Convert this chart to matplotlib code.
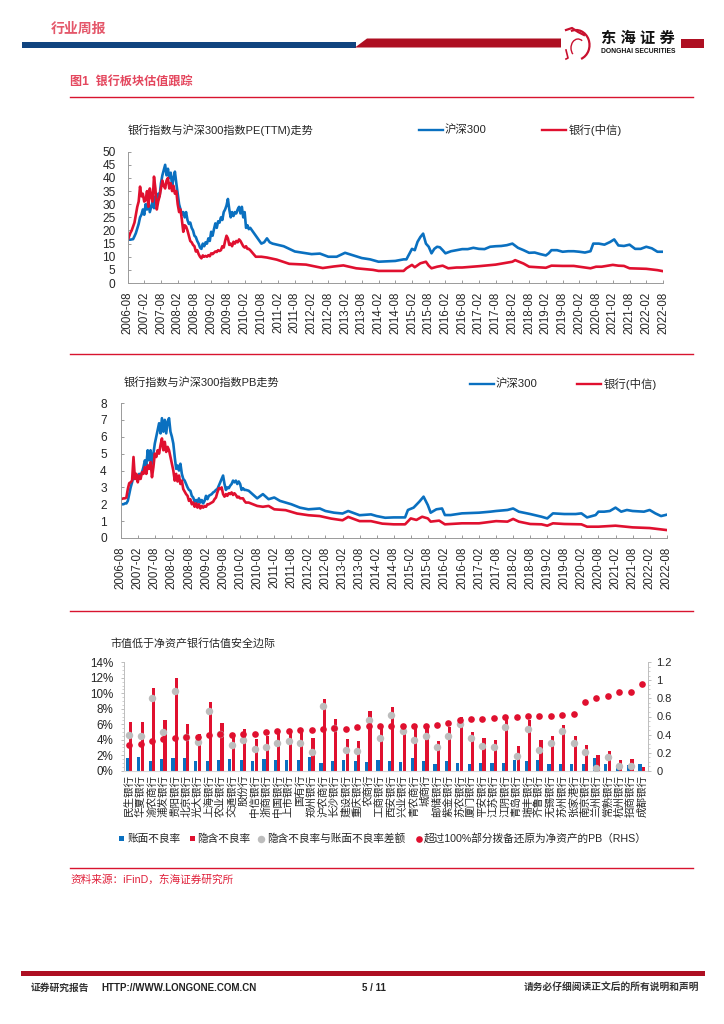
#!/usr/bin/env python3
"""
Bank sector valuation page: PE and PB against CSI 300, plus safety margin chart.
"""

import numpy as np
import matplotlib
matplotlib.use('Agg')
import matplotlib.pyplot as plt
from matplotlib.patches import Arc, Polygon, Rectangle

plt.rcParams['font.family'] = ['Liberation Sans', 'Noto Sans CJK SC', 'DejaVu Sans']
plt.rcParams['axes.unicode_minus'] = False

W, H = 724, 1024
BLUE = '#0A70C0'
RED = '#E0102F'
DARK_RED = '#AE0F22'
GREY = '#BDBDBD'
AXIS = '#9A9A9A'
TEXT = '#262626'

# half-yearly tick labels, month offsets from 2006-08
tick_labels = []
for year in range(2006, 2023):
    if year > 2006:
        tick_labels.append(f'{year}-02')
    tick_labels.append(f'{year}-08')
tick_months = list(range(0, 193, 6))

# first 44 months are read every half month, the rest at the offsets listed
pe_hs300_early = [16.4, 16.5, 16.5, 16.6, 16.7, 17.8, 19, 20.8, 22.5,
                  25, 26, 28, 26, 30, 28, 31, 27, 29,
                  31, 28.5, 33, 31, 34, 33, 38, 41, 43,
                  45, 41, 43.5, 40, 42, 37, 40, 42.4, 38,
                  34, 30, 28, 26, 27, 25, 27, 24, 22.5,
                  23, 21, 20, 18, 17.5, 16, 15, 13.5, 13,
                  15, 14, 15.5, 15, 17, 16, 19.5, 18, 20.5,
                  22.7, 21, 23.5, 23, 25, 24, 27, 28, 29.5,
                  32, 28, 25, 27, 25.5, 27, 26.5, 28, 29,
                  26.5, 29, 25, 27, 21, 22, 20.5, 21]
pe_hs300_late_m = [46, 48, 49, 50, 51, 52, 54, 56, 58, 60, 63, 66, 69, 72, 75, 78, 81, 84, 87, 90, 96, 99, 100, 102, 103,
                   104, 105, 106, 107, 108, 109, 110, 111, 112, 113, 114, 115, 116, 118, 120, 122, 124, 126, 128, 130,
                   132, 134, 136, 138, 140, 142, 144, 146, 148, 150, 151, 152, 154, 156, 158, 160, 162, 164, 166, 167,
                   169, 171, 173, 174.5, 176, 178, 180, 182, 184, 186, 188, 190, 192]
pe_hs300_late = [18, 15, 15.5, 17, 15.5, 15, 14.5, 14, 13, 12, 11.5, 11, 11.2, 10, 10, 11.5, 10.5, 9.5, 9, 8.1, 8.4, 9, 9, 13,
                 12.5, 15.7, 17.5, 18.8, 15, 13.8, 11.3, 13, 13.8, 13.6, 12.5, 11.3, 11.7, 12.1, 12.5, 12.9, 12.9, 13.4,
                 13, 12.9, 13.8, 14, 14.1, 14.4, 15, 13.4, 12.5, 11.5, 11.6, 11, 10.5, 11.3, 12.5, 12.5, 11.9, 12.1,
                 12.1, 11.9, 11.6, 12.1, 15, 15, 14.6, 15.6, 16.6, 14.3, 14.1, 14.6, 13, 13, 13.8, 13.2, 11.9, 11.9]

pe_bank_early = [16, 17.5, 19, 20, 21.5, 23, 26, 29, 31,
                 36.7, 33, 34, 31, 31.6, 35, 29, 36, 33,
                 31, 40.5, 36, 28, 31, 33, 36, 39, 37,
                 36, 39, 40, 36, 38, 35, 37, 34, 35,
                 30, 27, 28, 24, 19.5, 22, 21.5, 20, 18,
                 16, 15.5, 14.5, 14, 12, 12.5, 11, 10, 9.4,
                 10.5, 10, 10.3, 10, 10.6, 10.2, 11.3, 11, 11.5,
                 12, 11.8, 12.5, 12.2, 12.5, 14, 13.5, 16, 18,
                 17, 14.5, 15, 14, 15.7, 15, 16, 15.5, 16.6,
                 16, 15, 14, 13.5, 14, 13, 13, 12.5]
pe_bank_late_m = [46, 48, 50, 53.5, 58, 64, 70, 74, 77.4, 82, 88, 90, 96, 99, 100, 102, 103, 105, 107, 108, 109, 111, 113,
                  115, 118, 120, 126, 132, 138, 139, 142, 144, 150, 152, 156, 160, 162, 166, 168, 170, 174, 176, 178,
                  180, 186, 190, 192]
pe_bank_late = [10, 10, 9.7, 8.9, 7.3, 7, 5.7, 6.3, 6.7, 5.6, 5, 4.6, 4.6, 4.6, 5.6, 6.9, 6, 7.5, 8.1, 6.6, 5.6, 6.2, 6.6,
                5.6, 5.9, 5.9, 6.4, 7, 8.1, 8.7, 7.4, 6.2, 5.8, 6.6, 6.5, 6.5, 6.2, 5.6, 6.2, 6.2, 6.9, 6.6, 6.5,
                5.6, 5.4, 4.9, 4.5]

pb_hs300_early = [2, 2, 2, 2.05, 2.05, 2.2, 2.6, 3, 3.3,
                  3.7, 3.5, 3.7, 3.6, 3.8, 3.7, 3.9, 4.2, 4.6,
                  4.3, 5.2, 4.6, 5.2, 4.4, 5, 5.6, 6, 6.4,
                  6.8, 6.2, 7.1, 6.3, 7, 6.2, 6.9, 7.1, 6.3,
                  6, 5.6, 4.8, 4.1, 4.3, 4.0, 4.4, 3.8, 3.5,
                  3.4, 3.2, 3, 2.85, 2.8, 2.5, 2.4, 2.15, 2.25,
                  2.1, 2.35, 2.1, 2.25, 2.05, 2.2, 2.5, 2.3, 2.5,
                  2.55, 2.6, 2.7, 2.75, 2.85, 2.9, 3.1, 3.3, 3.5,
                  3.7, 3.2, 2.85, 3, 2.95, 3.1, 3.2, 3.4, 3.3,
                  3.4, 3.2, 3.35, 3.2, 2.85, 2.95, 2.85, 2.85]
pb_hs300_late_m = [45, 48, 50, 52, 54, 56, 60, 63, 66, 70, 72, 75, 78, 80, 84, 88, 90, 93, 96, 100, 101, 103, 105, 106.5,
                   108, 109, 111, 113, 114, 116, 120, 126, 130, 132, 136, 138, 140, 144, 148, 150, 152, 156, 160, 162,
                   164, 167, 168, 170, 172, 174, 176, 178, 180, 184, 186, 188, 190, 192]
pb_hs300_late = [2.8, 2.35, 2.6, 2.3, 2.4, 2.2, 2, 1.8, 1.7, 1.75, 1.6, 1.5, 1.45, 1.6, 1.35, 1.4, 1.3, 1.2, 1.22, 1.22, 1.66,
                 1.8, 2.15, 2.45, 1.95, 1.5, 1.7, 1.75, 1.36, 1.36, 1.46, 1.5, 1.56, 1.6, 1.66, 1.75, 1.56, 1.42, 1.26,
                 1.16, 1.46, 1.42, 1.42, 1.46, 1.22, 1.36, 1.56, 1.56, 1.6, 1.8, 1.56, 1.66, 1.6, 1.56, 1.66, 1.46, 1.3, 1.38]

pb_bank_early = [2.3, 2.32, 2.35, 2.35, 2.4, 2.9, 3.25, 3.3, 3.4,
                 4.8, 3.5, 3.8, 3.3, 3.7, 3.5, 3.9, 3.8, 4.2,
                 3.8, 4.3, 4.1, 4.5, 3.6, 4.2, 5, 4.8, 5.2,
                 5.0, 5.5, 5.9, 5.2, 5.7, 5.1, 5.4, 5.2, 4.8,
                 4.4, 4.0, 3.4, 3.8, 3.35, 3.7, 3.2, 3.4, 2.9,
                 2.75, 2.6, 2.5, 2.2, 2.3, 2, 2.1, 1.85, 2.05,
                 1.8, 2, 1.75, 1.9, 1.8, 1.9, 1.85, 2, 2,
                 2.05, 2.1, 2.15, 2.3, 2.4, 2.7, 2.95, 2.9, 3,
                 2.6, 2.45, 2.6, 2.5, 2.65, 2.6, 2.7, 2.55, 2.65,
                 2.55, 2.4, 2.45, 2.35, 2.35, 2.35, 2.2, 2.1]
pb_bank_late_m = [45, 48, 50, 52, 54, 58, 62, 66, 70, 74, 78, 80, 84, 88, 92, 96, 100, 102, 104, 106, 108, 109, 112, 114,
                  120, 126, 132, 136, 138, 140, 144, 148, 150, 152, 156, 162, 164, 168, 174, 180, 186, 190, 192]
pb_bank_late = [2.1, 1.9, 1.85, 1.9, 1.7, 1.65, 1.45, 1.35, 1.3, 1.15, 1.05, 1.25, 1, 1, 0.85, 0.81, 0.81, 1.16, 1.07, 1.26,
                1.16, 0.97, 1.03, 0.81, 0.87, 0.87, 1, 0.97, 1.13, 0.97, 0.83, 0.81, 0.73, 0.87, 0.83, 0.81, 0.67, 0.67,
                0.73, 0.63, 0.59, 0.51, 0.47]

# bank safety margin chart
banks = ['民生银行', '华夏银行', '渝农商行', '浦发银行', '贵阳银行', '北京银行', '光大银行', '上海银行', '农业银行', '交通银行',
         '股份行', '中信银行', '浙商银行', '中国银行', '上市银行', '国有行', '郑州银行', '沪农商行', '长沙银行', '建设银行',
         '重庆银行', '农商行', '工商银行', '西安银行', '兴业银行', '青农商行', '城商行', '邮储银行', '紫金银行', '苏农银行',
         '厦门银行', '平安银行', '江苏银行', '江阴银行', '青岛银行', '瑞丰银行', '齐鲁银行', '无锡银行', '苏州银行', '张家港行',
         '南京银行', '兰州银行', '常熟银行', '杭州银行', '招商银行', '成都银行']
npl_book = [1.7, 1.75, 1.25, 1.55, 1.6, 1.6, 1.25, 1.25, 1.4, 1.45, 1.38, 1.27, 1.47, 1.33, 1.35, 1.35, 1.75, 0.95, 1.2, 1.4,
            1.27, 1.1, 1.38, 1.25, 1.12, 1.68, 1.25, 0.82, 1.25, 0.95, 0.86, 1.03, 1.0, 1.0, 1.34, 1.2, 1.34, 0.86, 0.86, 0.86,
            0.86, 1.68, 0.82, 0.73, 0.73, 0.82]
npl_implied = [6.3, 6.25, 10.65, 6.55, 12.0, 6.05, 4.75, 8.9, 6.1, 4.85, 5.4, 4.1, 4.5, 4.86, 5.2, 4.97, 4.2, 9.27, 6.65, 4.05,
               3.85, 7.7, 5.7, 8.25, 6.0, 6.0, 5.7, 3.85, 5.7, 7.0, 5.05, 4.2, 3.95, 6.7, 3.2, 6.55, 3.95, 4.5, 5.95, 4.45,
               3.3, 2.0, 2.55, 1.35, 1.45, 0.47]
npl_gap = [4.6, 4.5, 9.45, 4.95, 10.35, 4.4, 3.65, 7.65, 4.7, 3.3, 4.0, 2.8, 3.0, 3.55, 3.85, 3.6, 2.4, 8.3, 5.5, 2.65,
           2.5, 6.6, 4.2, 7.15, 5.15, 3.95, 4.45, 3.1, 4.45, 6.05, 4.2, 3.2, 3.0, 5.7, 1.9, 5.4, 2.65, 3.6, 5.1, 3.6,
           2.4, 0.35, 1.8, 0.6, 0.6, np.nan]
pb_restored = [0.29, 0.30, 0.33, 0.35, 0.36, 0.37, 0.37, 0.395, 0.405, 0.40, 0.405, 0.405, 0.43, 0.44, 0.445, 0.45, 0.45, 0.465,
               0.47, 0.465, 0.485, 0.49, 0.49, 0.49, 0.50, 0.50, 0.50, 0.505, 0.53, 0.56, 0.57, 0.57, 0.585, 0.59, 0.595, 0.61,
               0.61, 0.61, 0.62, 0.63, 0.765, 0.805, 0.825, 0.875, 0.875, 0.955]

fig = plt.figure(figsize=(W / 100, H / 100), dpi=100, facecolor='white')


def px_axes(left, top, right, bottom):
    return fig.add_axes([left / W, 1 - bottom / H, (right - left) / W, (bottom - top) / H])


def months_of(early, late_m):
    return np.concatenate([np.arange(len(early)) * 0.5, late_m])


# page furniture in pixel coordinates
page = fig.add_axes([0, 0, 1, 1])
page.set_xlim(0, W)
page.set_ylim(H, 0)
page.axis('off')
page.add_patch(Rectangle((22, 41.5), 334, 6, color='#10447F', lw=0))
page.add_patch(Polygon([(355, 47.5), (367, 38.5), (561, 38.5), (561, 47.5)], color=DARK_RED, lw=0))
page.add_patch(Rectangle((681, 38.5), 23, 9, color=DARK_RED, lw=0))
page.add_patch(Rectangle((21, 971), 684, 5, color=DARK_RED, lw=0))
page.text(51, 28.5, '行业周报', color='#E4576A', fontsize=10, va='center', weight='bold')
page.text(70, 83, '图1  银行板块估值跟踪', color='#E4475E', fontsize=8.7, va='center', weight='bold')
for y in [96.5, 353.5, 610.5, 867.5]:
    page.plot([69.5, 693], [y, y], color='#D8142F', lw=1.0)
page.text(70, 880, '资料来源：iFinD，东海证券研究所', color='#E0203A', fontsize=7.7, va='center')
page.text(31, 988, '证券研究报告', color='#333333', fontsize=7, va='center', weight='bold')
page.text(101.5, 988, 'HTTP://WWW.LONGONE.COM.CN', color='#222222', fontsize=7, va='center', weight='bold')
page.text(374, 988, '5 / 11', color='#222222', fontsize=7, va='center', ha='center', weight='bold')
page.text(699, 988, '请务必仔细阅读正文后的所有说明和声明', color='#333333', fontsize=7, va='center', ha='right', weight='bold')

# logo
page.add_patch(Arc((576, 45), 27, 30, theta1=-110, theta2=70, color='#C8102E', lw=1.6))
page.add_patch(Arc((578, 48), 14, 18, theta1=130, theta2=300, color='#C8102E', lw=1.0))
page.plot([566, 572, 578, 584], [30, 28, 32, 35], color='#C8102E', lw=1.6)
page.plot([566, 568, 566], [50, 58, 59], color='#C8102E', lw=1.2)
page.text(601, 38.5, '东 海 证 券', color='#111111', fontsize=11, va='center', weight='bold')
page.text(601, 51.5, 'DONGHAI SECURITIES', color='#111111', fontsize=4.9, va='center', weight='bold')


def draw_line_panel(box, blue, red, ymax, ystep, title, title_xy, legend_y, legend_x, label_pad):
    ax = px_axes(*box)
    ax.patch.set_alpha(0)
    ax.plot(blue[0], blue[1], color=BLUE, lw=1.9, solid_joinstyle='round')
    ax.plot(red[0], red[1], color=RED, lw=1.9, solid_joinstyle='round')
    ax.set_xlim(0, 192)
    ax.set_ylim(0, ymax)
    ax.set_xticks(tick_months)
    ax.set_xticklabels(tick_labels, rotation=90, fontsize=8.3, color=TEXT)
    ax.set_yticks(np.arange(0, ymax + ystep, ystep))
    ax.tick_params(axis='x', direction='in', length=2.4, width=0.7, color=AXIS, pad=6)
    ax.tick_params(axis='y', direction='in', length=2.4, width=0.7, color=AXIS, labelsize=8.6,
                   labelcolor=TEXT, pad=label_pad)
    for side in ['top', 'right']:
        ax.spines[side].set_visible(False)
    for side in ['left', 'bottom']:
        ax.spines[side].set_color(AXIS)
        ax.spines[side].set_linewidth(0.7)
    page.text(title_xy[0], title_xy[1], title, color=TEXT, fontsize=8, va='center')
    page.plot([legend_x[0], legend_x[0] + 24], [legend_y, legend_y], color=BLUE, lw=1.7)
    page.text(legend_x[0] + 26, legend_y, '沪深300', color=TEXT, fontsize=8.2, va='center')
    page.plot([legend_x[1], legend_x[1] + 24], [legend_y, legend_y], color=RED, lw=1.7)
    page.text(legend_x[1] + 27, legend_y, '银行(中信)', color=TEXT, fontsize=8.2, va='center')
    return ax


draw_line_panel((127.5, 151.7, 663, 283),
                (months_of(pe_hs300_early, pe_hs300_late_m), pe_hs300_early + pe_hs300_late),
                (months_of(pe_bank_early, pe_bank_late_m), pe_bank_early + pe_bank_late),
                50, 5, '银行指数与沪深300指数PE(TTM)走势', (128, 130.5), 130, (419, 542), 8.6)
draw_line_panel((120.7, 403, 666.7, 538),
                (months_of(pb_hs300_early, pb_hs300_late_m), pb_hs300_early + pb_hs300_late),
                (months_of(pb_bank_early, pb_bank_late_m), pb_bank_early + pb_bank_late),
                8, 1, '银行指数与沪深300指数PB走势', (124, 382), 384, (470, 577), 10)

# safety margin chart, bars and dots on two axes
ax = px_axes(123.6, 662.3, 647.7, 770.7)
x = np.arange(len(banks))
ax.bar(x - 0.17, npl_book, width=0.28, color=BLUE)
ax.bar(x + 0.13, npl_implied, width=0.28, color=RED)
ax.scatter(x, npl_gap, s=29, color=GREY, zorder=4, lw=0)
ax.set_xlim(-0.5, len(banks) - 0.5)
ax.set_ylim(0, 14)
ax.set_yticks(range(0, 15, 2))
ax.set_yticklabels([f'{v}%' for v in range(0, 15, 2)], fontsize=8.4, color=TEXT)
ax.set_yticks(np.arange(0, 14.5, 0.5), minor=True)
ax.set_xticks(x)
ax.set_xticklabels(banks, rotation=90, fontsize=7.6, color=TEXT)
ax.tick_params(axis='x', length=0, pad=3)
ax.tick_params(axis='y', which='major', length=2.4, width=0.7, color=GREY, pad=5)
ax.tick_params(axis='y', which='minor', length=1.2, width=0.5, color=GREY)
for side in ['top', 'right']:
    ax.spines[side].set_visible(False)
ax.spines['left'].set_color(GREY)
ax.spines['left'].set_linewidth(0.7)
ax.spines['bottom'].set_color('#D8D8D8')

# red dots sit on top of the grey ones
rhs = ax.twinx()
rhs.scatter(x, pb_restored, s=23, color=RED, zorder=5, lw=0)
rhs.set_ylim(0, 1.2)
rhs.set_yticks(np.arange(0, 1.3, 0.2))
rhs.set_yticklabels(['0', '0.2', '0.4', '0.6', '0.8', '1', '1.2'], fontsize=8, color=TEXT)
rhs.set_yticks(np.arange(0, 1.21, 0.05), minor=True)
rhs.tick_params(axis='y', which='major', length=2.4, width=0.7, color=GREY, pad=3.8)
rhs.tick_params(axis='y', which='minor', length=1.2, width=0.5, color=GREY)
for side in ['top', 'left', 'bottom']:
    rhs.spines[side].set_visible(False)
rhs.spines['right'].set_color(GREY)
rhs.spines['right'].set_linewidth(0.7)

page.text(110, 643, '市值低于净资产银行估值安全边际', color=TEXT, fontsize=7.9, va='center')
legend_y = 838.5
page.add_patch(Rectangle((119, legend_y - 2.5), 5, 5, color=BLUE, lw=0))
page.text(127.5, legend_y, '账面不良率', color=TEXT, fontsize=7.7, va='center')
page.add_patch(Rectangle((190, legend_y - 2.5), 5, 5, color=RED, lw=0))
page.text(197.5, legend_y, '隐含不良率', color=TEXT, fontsize=7.7, va='center')
page.scatter([261], [legend_y], s=29, color=GREY, lw=0)
page.text(267, legend_y, '隐含不良率与账面不良率差额', color=TEXT, fontsize=7.7, va='center')
page.scatter([418.5], [legend_y], s=23, color=RED, lw=0)
page.text(423.5, legend_y, '超过100%部分拨备还原为净资产的PB（RHS）', color=TEXT, fontsize=7.7, va='center')

page.set_xlim(0, W)
page.set_ylim(H, 0)
fig.savefig('out.png', dpi=100)
